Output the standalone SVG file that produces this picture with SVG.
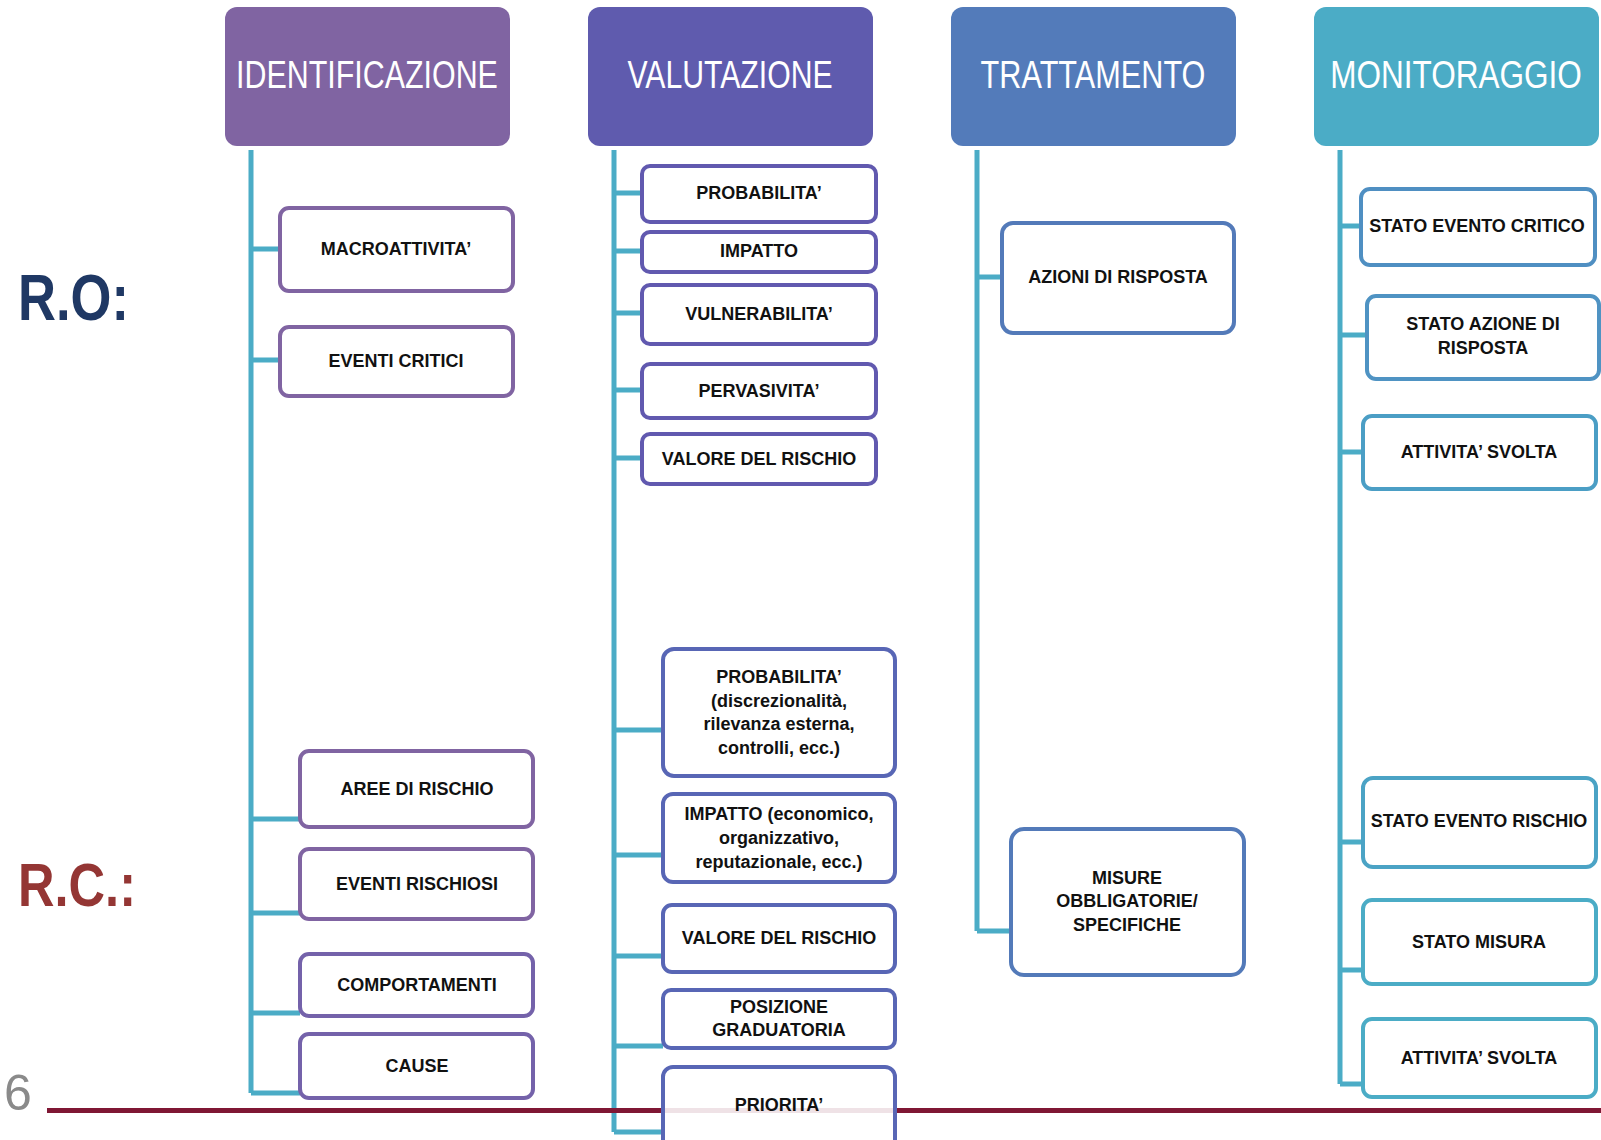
<svg xmlns="http://www.w3.org/2000/svg" width="1601" height="1140" viewBox="0 0 1601 1140">
<style>
.hd text{font-family:"Liberation Sans",Arial,sans-serif;font-size:38px;fill:#fff;text-anchor:middle}
.bx rect{fill:#fff;fill-opacity:0.88;stroke-width:4}
.bx text,.tx{font-family:"Liberation Sans",Arial,sans-serif;font-weight:bold;font-size:18px;fill:#111;text-anchor:middle}
.conn path{stroke:#4BACC6;stroke-width:5;fill:none}
.c1 rect{stroke:#8064A2}
.c1b rect{stroke:#7462AA}
.c2 rect{stroke:#6159AF}
.c2b rect{stroke:#5866B5}
.c3 rect{stroke:#537AB9}
.lbl{font-family:"Liberation Sans",Arial,sans-serif;font-weight:bold}
</style>
<rect width="1601" height="1140" fill="#fff"/>

<g id="labels">
<text class="lbl" x="18" y="320" font-size="64" fill="#1F3864" textLength="111" lengthAdjust="spacingAndGlyphs">R.O:</text>
<text class="lbl" x="18" y="906" font-size="62" fill="#943634" textLength="118" lengthAdjust="spacingAndGlyphs">R.C.:</text>
<text x="4" y="1110" font-family="Liberation Sans,Arial,sans-serif" font-size="50" fill="#8A8A8A">6</text>
</g>

<g id="headers" class="hd">
<g id="h-identificazione"><rect x="225" y="7" width="285" height="139" rx="12" fill="#8064A2"/><text transform="translate(367 88) scale(0.8 1)">IDENTIFICAZIONE</text></g>
<g id="h-valutazione"><rect x="588" y="7" width="285" height="139" rx="12" fill="#5F5BAE"/><text transform="translate(730 88) scale(0.795 1)">VALUTAZIONE</text></g>
<g id="h-trattamento"><rect x="951" y="7" width="285" height="139" rx="12" fill="#537BBA"/><text transform="translate(1093 88) scale(0.807 1)">TRATTAMENTO</text></g>
<g id="h-monitoraggio"><rect x="1314" y="7" width="285" height="139" rx="12" fill="#4BACC6"/><text transform="translate(1456 88) scale(0.83 1)">MONITORAGGIO</text></g>
</g>

<g id="connectors" class="conn">
<path d="M251 150V1093"/>
<path d="M251 249H280M251 360H280M251 819H300M251 913H300M251 1013H300M251 1093H300"/>
<path d="M614 150V1132"/>
<path d="M614 193H642M614 251H642M614 313H642M614 390H642M614 458H642M614 730H663M614 855H663M614 956H663M614 1046H663M614 1132H663"/>
<path d="M977 150V931"/>
<path d="M977 277H1002M977 931H1011"/>
<path d="M1340 150V1084"/>
<path d="M1340 226H1361M1340 335H1367M1340 452H1363M1340 842H1363M1340 970H1363M1340 1084H1363"/>
</g>

<rect id="footer-line" x="47" y="1108" width="1554" height="5" fill="#7F1734"/>

<g id="n-macroattivita" class="bx c1"><rect x="280" y="208" width="233" height="83" rx="9"/><text x="396" y="255">MACROATTIVITA’</text></g>
<g id="n-eventi-critici" class="bx c1"><rect x="280" y="327" width="233" height="69" rx="9"/><text x="396" y="367">EVENTI CRITICI</text></g>
<g id="n-aree-di-rischio" class="bx c1"><rect x="300" y="751" width="233" height="76" rx="9"/><text x="417" y="795">AREE DI RISCHIO</text></g>
<g id="n-eventi-rischiosi" class="bx c1"><rect x="300" y="849" width="233" height="70" rx="9"/><text x="417" y="890">EVENTI RISCHIOSI</text></g>
<g id="n-comportamenti" class="bx c1b"><rect x="300" y="954" width="233" height="62" rx="9"/><text x="417" y="991">COMPORTAMENTI</text></g>
<g id="n-cause" class="bx c1b"><rect x="300" y="1034" width="233" height="64" rx="9"/><text x="417" y="1072">CAUSE</text></g>

<g id="n-probabilita" class="bx c2"><rect x="642" y="166" width="234" height="56" rx="8"/><text x="759" y="199">PROBABILITA’</text></g>
<g id="n-impatto" class="bx c2"><rect x="642" y="232" width="234" height="40" rx="8"/><text x="759" y="257">IMPATTO</text></g>
<g id="n-vulnerabilita" class="bx c2"><rect x="642" y="285" width="234" height="59" rx="8"/><text x="759" y="320">VULNERABILITA’</text></g>
<g id="n-pervasivita" class="bx c2"><rect x="642" y="364" width="234" height="54" rx="8"/><text x="759" y="397">PERVASIVITA’</text></g>
<g id="n-valore-ro" class="bx c2"><rect x="642" y="434" width="234" height="50" rx="8"/><text x="759" y="465">VALORE DEL RISCHIO</text></g>

<g id="n-probabilita-rc" class="bx c2b"><rect x="663" y="649" width="232" height="127" rx="11"/>
<text x="779" y="683">PROBABILITA’</text><text x="779" y="707">(discrezionalità,</text><text x="779" y="730">rilevanza esterna,</text><text x="779" y="754">controlli, ecc.)</text></g>
<g id="n-impatto-rc" class="bx c2b"><rect x="663" y="794" width="232" height="88" rx="10"/>
<text x="779" y="820">IMPATTO (economico,</text><text x="779" y="844">organizzativo,</text><text x="779" y="868">reputazionale, ecc.)</text></g>
<g id="n-valore-rc" class="bx c2b"><rect x="663" y="905" width="232" height="67" rx="9"/><text x="779" y="944">VALORE DEL RISCHIO</text></g>
<g id="n-posizione" class="bx c2b"><rect x="663" y="990" width="232" height="58" rx="8"/><text x="779" y="1013">POSIZIONE</text><text x="779" y="1036">GRADUATORIA</text></g>
<g id="n-priorita" class="bx c2b"><rect x="663" y="1067" width="232" height="85" rx="10"/><text x="779" y="1111">PRIORITA’</text></g>

<g id="n-azioni" class="bx c3"><rect x="1002" y="223" width="232" height="110" rx="11"/><text x="1118" y="283">AZIONI DI RISPOSTA</text></g>
<g id="n-misure" class="bx c3"><rect x="1011" y="829" width="233" height="146" rx="13"/>
<text x="1127" y="884">MISURE</text><text x="1127" y="907">OBBLIGATORIE/</text><text x="1127" y="931">SPECIFICHE</text></g>

<g id="n-stato-evento-critico" class="bx"><rect x="1361" y="189" width="234" height="76" rx="9" stroke="#4F8FC2"/><text x="1477" y="232">STATO EVENTO CRITICO</text></g>
<g id="n-stato-azione" class="bx"><rect x="1367" y="296" width="232" height="83" rx="9" stroke="#4F93C3"/><text x="1483" y="330">STATO AZIONE DI</text><text x="1483" y="354">RISPOSTA</text></g>
<g id="n-attivita-ro" class="bx"><rect x="1363" y="416" width="233" height="73" rx="9" stroke="#4B9EC5"/><text x="1479" y="458">ATTIVITA’ SVOLTA</text></g>
<g id="n-stato-evento-rischio" class="bx"><rect x="1363" y="778" width="233" height="89" rx="10" stroke="#4BA3C5"/><text x="1479" y="827">STATO EVENTO RISCHIO</text></g>
<g id="n-stato-misura" class="bx"><rect x="1363" y="900" width="233" height="84" rx="9" stroke="#4BACC6"/><text x="1479" y="948">STATO MISURA</text></g>
<g id="n-attivita-rc" class="bx"><rect x="1363" y="1019" width="233" height="78" rx="9" stroke="#4BACC6"/><text x="1479" y="1064">ATTIVITA’ SVOLTA</text></g>
</svg>
